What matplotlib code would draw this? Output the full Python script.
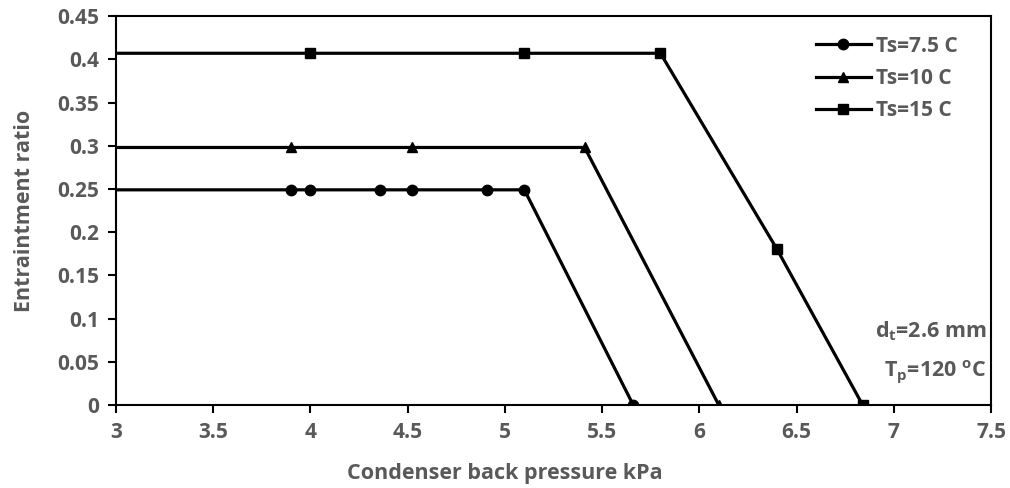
import matplotlib
matplotlib.use("Agg")
import matplotlib.pyplot as plt

plt.rcParams['font.family'] = ['Open Sans', 'DejaVu Sans']
plt.rcParams['font.weight'] = 'bold'
plt.rcParams['mathtext.fontset'] = 'custom'
plt.rcParams['mathtext.rm'] = 'Open Sans:bold'
plt.rcParams['mathtext.it'] = 'Open Sans:bold'
plt.rcParams['mathtext.bf'] = 'Open Sans:bold'
plt.rcParams['mathtext.default'] = 'rm'

# data (lines start left of the axis and are clipped at x=3)
x_75 = [2.5, 3.90, 4.00, 4.36, 4.52, 4.91, 5.10, 5.66]
y_75 = [0.249, 0.249, 0.249, 0.249, 0.249, 0.249, 0.249, 0.0]
x_10 = [2.5, 3.90, 4.52, 5.41, 6.10]
y_10 = [0.298, 0.298, 0.298, 0.298, 0.0]
x_15 = [2.5, 4.00, 5.10, 5.80, 6.40, 6.84]
y_15 = [0.407, 0.407, 0.407, 0.407, 0.18, 0.0]

grey = '#595959'

fig = plt.figure(figsize=(10.1, 4.88), dpi=100)
ax = fig.add_axes([0.1149, 0.170, 0.8663, 0.797])

ax.plot(x_75, y_75, color='black', lw=2.3, marker='o', ms=7.5, markevery=list(range(1, len(x_75))), label='Ts=7.5 C')
ax.plot(x_10, y_10, color='black', lw=2.3, marker='^', ms=7.5, markevery=list(range(1, len(x_10))), label='Ts=10 C')
ax.plot(x_15, y_15, color='black', lw=2.3, marker='s', ms=7, markevery=list(range(1, len(x_15))), label='Ts=15 C')

ax.set_xlim(3, 7.5)
ax.set_ylim(0, 0.45)
ax.set_xticks([3, 3.5, 4, 4.5, 5, 5.5, 6, 6.5, 7, 7.5])
ax.set_xticklabels(['3', '3.5', '4', '4.5', '5', '5.5', '6', '6.5', '7', '7.5'])
ax.set_yticks([0, 0.05, 0.1, 0.15, 0.2, 0.25, 0.3, 0.35, 0.4, 0.45])
ax.set_yticklabels(['0', '0.05', '0.1', '0.15', '0.2', '0.25', '0.3', '0.35', '0.4', '0.45'])
ax.tick_params(direction='out', length=6, width=1.5, colors='black', labelcolor=grey, labelsize=15, pad=6)
for lab in ax.get_xticklabels() + ax.get_yticklabels():
    lab.set_fontweight('bold')
for s in ax.spines.values():
    s.set_linewidth(1.5)

ax.set_xlabel('Condenser back pressure kPa', color=grey, fontsize=15.5, fontweight='bold', va='center')
ax.xaxis.set_label_coords(0.4446, -0.177)
ax.set_ylabel('Entraintment ratio', color=grey, fontsize=15.5, fontweight='bold', va='center')
ax.yaxis.set_label_coords(-0.105, 0.5)

leg = ax.legend(loc='upper right', bbox_to_anchor=(0.962, 0.95), frameon=False,
                prop={'size': 15, 'weight': 'bold'}, borderpad=0, borderaxespad=0,
                handlelength=2.65, handletextpad=0.25, labelspacing=0.55)
for t in leg.get_texts():
    t.set_color(grey)

ax.text(0.995, 0.19, 'd$_t$=2.6 mm', transform=ax.transAxes, ha='right', va='center',
        color=grey, fontsize=15.5, fontweight='bold')
ax.text(0.995, 0.085, 'T$_p$=120 $^o$C', transform=ax.transAxes, ha='right', va='center',
        color=grey, fontsize=15.5, fontweight='bold')

fig.savefig('out.png', dpi=100)
